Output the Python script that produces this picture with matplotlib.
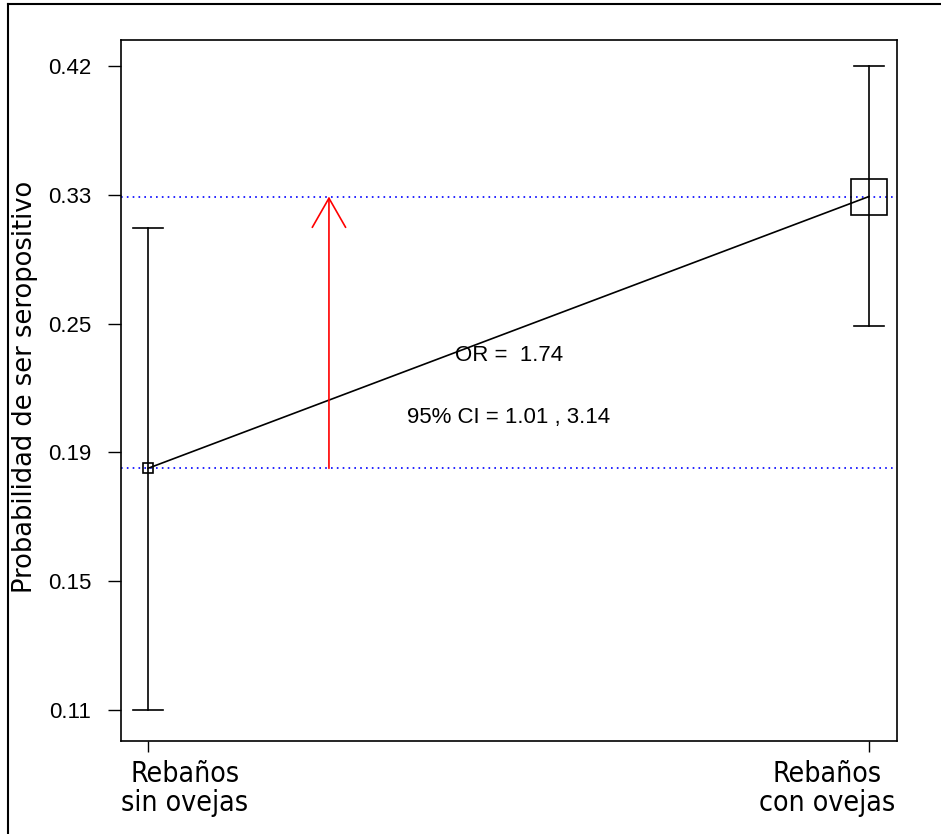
import matplotlib
matplotlib.use("Agg")
import matplotlib.pyplot as plt
from matplotlib.lines import Line2D
import numpy as np

# groups and estimated probabilities
groups = ["Rebaños\nsin ovejas", "Rebaños\ncon ovejas"]
est = [0.1935, 0.336]
ci_low = [0.110, 0.262]
ci_high = [0.317, 0.420]
marker_sizes = [7.5, 26]  # points
tick_labels = ["0.11", "0.15", "0.19", "0.25", "0.33", "0.42"]
or_text = "OR =  1.74"
ci_text = "95% CI = 1.01 , 3.14"


def logit(p):
    p = np.clip(p, 1e-9, 1 - 1e-9)
    return np.log(p / (1 - p))


def expit(z):
    return 1 / (1 + np.exp(-z))


num_font = "Liberation Sans"

fig = plt.figure(figsize=(9.41, 8.34), dpi=100)
ax = fig.add_axes([0.1286, 0.1115, 0.8246, 0.8405])
ax.set_yscale("function", functions=(logit, expit))

x = np.arange(len(groups))

# reference lines at each group's estimate
for e in est:
    ax.axhline(e, color="blue", ls=(0, (1, 2.5)), lw=1.2, zorder=1)

# connecting line
ax.plot(x, est, color="black", lw=1.2, zorder=2)

# confidence intervals
cap = 0.021
for xi, lo, hi in zip(x, ci_low, ci_high):
    ax.plot([xi, xi], [lo, hi], color="black", lw=1.2, zorder=2)
    ax.plot([xi - cap, xi + cap], [lo, lo], color="black", lw=1.2, zorder=2)
    ax.plot([xi - cap, xi + cap], [hi, hi], color="black", lw=1.2, zorder=2)

# squares sized by group
for xi, e, ms in zip(x, est, marker_sizes):
    ax.plot(xi, e, marker="s", ms=ms, mfc="none", mec="black", mew=1.2, zorder=3)

# arrow showing the change
ax.annotate("", xy=(0.251, est[1]), xytext=(0.251, est[0]),
            arrowprops=dict(arrowstyle="->,head_length=2.1,head_width=1.2",
                            color="red", lw=1.2, mutation_scale=10,
                            shrinkA=0, shrinkB=0))

ax.text(0.5, 0.5506, or_text, transform=ax.transAxes, ha="center", va="center",
        fontsize=16, family=num_font)
ax.text(0.5, 0.4608, ci_text, transform=ax.transAxes, ha="center", va="center",
        fontsize=16, family=num_font)

# axis limits / ticks
ax.set_xlim(-0.0374, 1.0388)
ax.set_ylim(expit(-2.176), expit(-0.2516))
yt = expit(np.linspace(logit(0.11), logit(0.42), len(tick_labels)))
ax.set_yticks(yt)
ax.set_yticklabels(tick_labels, family=num_font, fontsize=16)
ax.yaxis.set_minor_locator(matplotlib.ticker.NullLocator())
ax.set_xticks(x)
ax.set_xticklabels([])
# group labels sit a bit inward from their ticks in the original
for xi, lab, dx in zip(x, groups, [26.6, -30.2]):
    ax.annotate(lab, xy=(xi, 0), xycoords=("data", "axes fraction"),
                xytext=(dx, -13.5), textcoords="offset points",
                ha="center", va="top", multialignment="center",
                fontsize=20.4, family="DejaVu Sans", stretch="condensed",
                linespacing=1.05, annotation_clip=False)
ax.tick_params(axis="y", length=9.5, width=1, pad=12)
ax.tick_params(axis="x", length=8, width=1)
for s in ax.spines.values():
    s.set_linewidth(1.2)

ax.set_ylabel("Probabilidad de ser seropositivo", fontsize=18.5, family="DejaVu Sans")
ax.yaxis.set_label_coords(-0.107, 0.505)

# partial figure border
fig.add_artist(Line2D([0.0085, 1], [0.9952, 0.9952], color="black", lw=1.5))
fig.add_artist(Line2D([0.0085, 0.0085], [0, 0.9952], color="black", lw=1.5))

fig.savefig("out.png", dpi=100)
